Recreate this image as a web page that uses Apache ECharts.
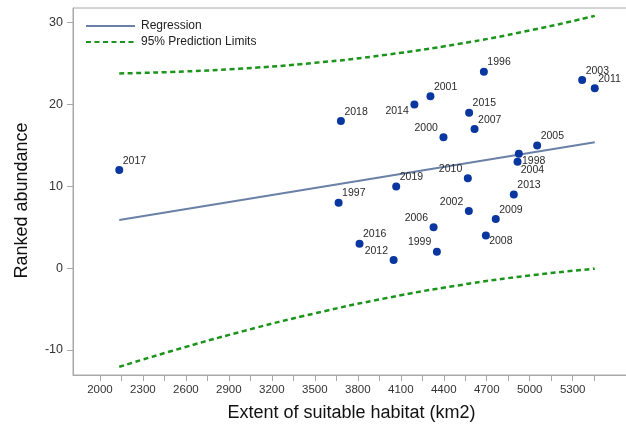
<!DOCTYPE html>
<html><head><meta charset="utf-8">
<script src="https://cdn.jsdelivr.net/npm/echarts@6/dist/echarts.min.js"></script>
<style>html,body{margin:0;padding:0;background:#fff}#c{width:626px;height:431px}</style>
</head><body><div id="c"></div>
<script>
// ---- data ----
const years     = ['1996','2003','2011','2001','2014','2015','2018','2007','2000','2005','1998','2004','2017','2010','2019','2013','1997','2002','2009','2006','2008','2016','1999','2012'];
const habitat   = [4680, 5366, 5454, 4307, 4195, 4577, 3682, 4615, 4398, 5052, 4924, 4915, 2135, 4568, 4068, 4889, 3666, 4575, 4763, 4329, 4694, 3812, 4352, 4050];
const abundance = [24, 23, 22, 21, 20, 19, 18, 17, 16, 15, 14, 13, 12, 11, 10, 9, 8, 7, 6, 5, 4, 3, 2, 1];
const regX   = [2135, 5454];
const regY   = [5.88, 15.39];
const limX   = [2135, 2500, 3000, 3500, 4000, 4500, 5000, 5454];
const upperY = [23.81, 23.98, 24.41, 25.10, 26.09, 27.40, 29.05, 30.84];
const lowerY = [-12.05, -10.12, -7.69, -5.52, -3.65, -2.10, -0.89, -0.06];
const xTicks      = [2000,2150,2300,2450,2600,2750,2900,3050,3200,3350,3500,3650,3800,3950,4100,4250,4400,4550,4700,4850,5000,5150,5300,5450];
const xTickLabels = [2000,2300,2600,2900,3200,3500,3800,4100,4400,4700,5000,5300];
const yTickLabels = [-10,0,10,20,30];

// label side for each year (layout only)
const labelSide = {'2000':'tl','2010':'tl','2002':'tl','2006':'tl','2012':'tl','1999':'tl','2014':'bl','1998':'br','2004':'br','2008':'br2'};
const sidePos = {
  tr:  {position:[7.5,-5.3], align:'left',  verticalAlign:'middle'},
  tl:  {position:[-1.6,-5.3], align:'right', verticalAlign:'middle'},
  bl:  {position:[-1.6,10.7], align:'right', verticalAlign:'middle'},
  br:  {position:[7.2,11.8], align:'left',  verticalAlign:'middle'},
  br2: {position:[7.3,9.8], align:'left',  verticalAlign:'middle'}
};

const FONT = '"Liberation Sans", Arial, sans-serif';
const pts = years.map((y,i)=>({name:y, value:[habitat[i], abundance[i]], label: Object.assign({}, sidePos[labelSide[y]||'tr'])}));

const chart = echarts.init(document.getElementById('c'), null, {renderer:'canvas'});
chart.setOption({
  animation:false,
  backgroundColor:'#fff',
  grid:{left:73, right:-4, top:8, bottom:56, outerBoundsMode:'none', containLabel:false,
        show:true, borderColor:'#a8a8a8', borderWidth:1},
  legend:{
    data:['Regression','95% Prediction Limits'],
    orient:'vertical', left:80, top:15, itemWidth:49, itemHeight:12, itemGap:4,
    itemStyle:{opacity:0},
    textStyle:{fontFamily:FONT, fontSize:12, color:'#222', padding:[0,0,0,1]}
  },
  xAxis:{
    type:'value', min:1812, max:5700,
    name:'Extent of suitable habitat (km2)', nameLocation:'middle', nameGap:29,
    nameTextStyle:{fontFamily:FONT, fontSize:18, color:'#111'},
    axisLine:{show:true, onZero:false, lineStyle:{color:'#a8a8a8'}},
    axisTick:{show:true, customValues:xTicks, length:6, lineStyle:{color:'#a8a8a8'}},
    axisLabel:{customValues:xTickLabels, margin:9, fontFamily:FONT, fontSize:11.5, color:'#333', formatter:v=>String(v)},
    splitLine:{show:false}
  },
  yAxis:{
    type:'value', min:-13.05, max:31.8,
    name:'Ranked abundance', nameLocation:'middle', nameGap:42,
    nameTextStyle:{fontFamily:FONT, fontSize:18, color:'#111', padding:[0,18,0,0]},
    axisLine:{show:true, onZero:false, lineStyle:{color:'#a8a8a8'}},
    axisTick:{show:true, customValues:yTickLabels, length:6, lineStyle:{color:'#a8a8a8'}},
    axisLabel:{customValues:yTickLabels, margin:10, fontFamily:FONT, fontSize:12.5, color:'#333', formatter:v=>String(v)},
    splitLine:{show:false}
  },
  series:[
    {name:'95% Prediction Limits', type:'line', smooth:true, symbol:'none', z:2,
     data:limX.map((x,i)=>[x, upperY[i]]),
     lineStyle:{color:'#1a941a', width:2.5, type:[5,3.5]}, itemStyle:{color:'#1a941a'}},
    {name:'95% Prediction Limits', type:'line', smooth:true, symbol:'none', z:2,
     data:limX.map((x,i)=>[x, lowerY[i]]),
     lineStyle:{color:'#1a941a', width:2.5, type:[5,3.5]}, itemStyle:{color:'#1a941a'}},
    {name:'Regression', type:'line', symbol:'none', z:3,
     data:regX.map((x,i)=>[x, regY[i]]),
     lineStyle:{color:'#6a80a6', width:2}, itemStyle:{color:'#6a80a6'}},
    {name:'Years', type:'scatter', symbol:'circle', symbolSize:8, z:4,
     data:pts,
     itemStyle:{color:'#0a36a0', opacity:1},
     label:{show:true, formatter:'{b}', fontFamily:FONT, fontSize:10.5, color:'#2a2a2a'},
     labelLayout:{hideOverlap:false}}
  ]
});
</script></body></html>
